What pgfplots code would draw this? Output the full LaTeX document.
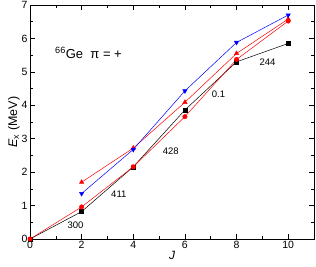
\documentclass[border=0pt]{standalone}
\usepackage{fontspec}
\setmainfont{Liberation Sans}
\usepackage{pgfplots}
\pgfplotsset{compat=1.18}
\begin{document}
\begin{tikzpicture}
\useasboundingbox (-30pt,-27pt) rectangle (286pt,239pt);
\begin{axis}[
  at={(0pt,0pt)}, anchor=south west,
  scale only axis, width=284pt, height=234pt,
  xmin=0, xmax=11, ymin=0, ymax=7,
  xtick={0,2,4,6,8,10}, ytick={0,1,...,7},
  minor xtick={1,3,5,7,9}, minor ytick={0.5,1.5,...,6.5},
  tick align=inside, major tick length=5pt, minor tick length=3pt,
  tick style={black, line width=0.6pt},
  axis line style={line width=0.8pt},
  xtick pos=both, ytick pos=both,
  /pgf/number format/assume math mode=true,
  ticklabel style={font=\fontsize{10.5}{12}\selectfont},
  xticklabel style={yshift=1pt},
  yticklabel style={xshift=1pt},
  xlabel={\fontsize{12}{14}\selectfont\itshape J},
  ylabel={\fontsize{12.5}{14}\selectfont\itshape E\textsubscript{\upshape x}\upshape\ (MeV)},
  xlabel style={yshift=5pt},
  ylabel style={yshift=-5pt},
  clip=false,
]
\addplot[black, line width=0.5pt, mark=square*, mark size=2pt] coordinates {(0,0) (2,0.82) (4,2.16) (6,3.86) (8,5.30) (10,5.85)};
\addplot[red, line width=0.5pt, mark=*, mark size=2.2pt] coordinates {(0,0) (2,0.96) (4,2.16) (6,3.66) (8,5.37) (10,6.52)};
\addplot[red, line width=0.5pt, mark=triangle*, mark size=2.5pt] coordinates {(2,1.70) (4,2.72) (6,4.09) (8,5.55) (10,6.58)};
\addplot[blue, line width=0.5pt, mark=triangle*, mark size=2.5pt, mark options={rotate=180}] coordinates {(2,1.36) (4,2.68) (6,4.43) (8,5.88) (10,6.70)};
\node[font=\fontsize{9.5}{11}\selectfont] at (axis cs:1.76,0.42) {300};
\node[font=\fontsize{9.5}{11}\selectfont] at (axis cs:3.44,1.33) {411};
\node[font=\fontsize{9.5}{11}\selectfont] at (axis cs:5.45,2.63) {428};
\node[font=\fontsize{9.5}{11}\selectfont] at (axis cs:7.3,4.34) {0.1};
\node[font=\fontsize{9.5}{11}\selectfont] at (axis cs:9.2,5.3) {244};
\node[font=\fontsize{13}{15}\selectfont, anchor=west, inner sep=0pt] at (axis cs:0.97,5.57) {\textsuperscript{66}Ge\ \ π = +};
\end{axis}
\end{tikzpicture}
\end{document}
